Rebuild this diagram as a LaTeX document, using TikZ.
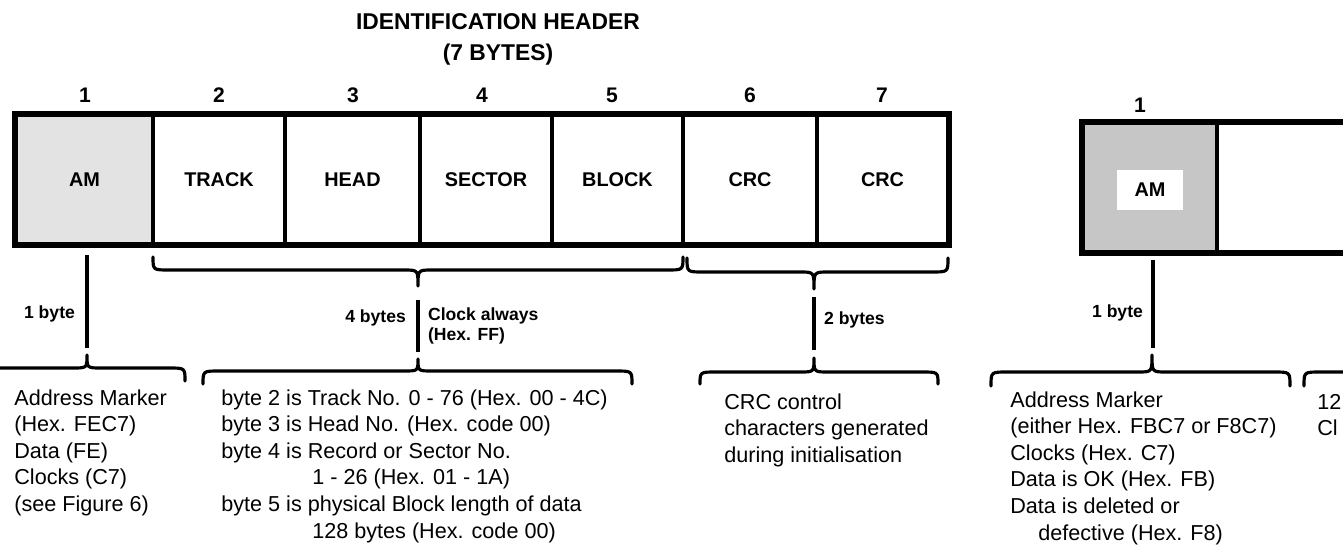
\documentclass[tikz,border=0pt]{standalone}
\usepackage{fontspec}
\setmainfont{Liberation Sans}
\newcommand{\mkcell}[7]{\node[cell,#7,minimum width={(#3-#2)*0.56693pt},minimum height={(#5-#4)*0.56693pt}] (#1) at ({(#2+#3)/2},{(#4+#5)/2}) {#6};}
\newcommand{\bracepath}[6]{\draw[brc] (#1,#4) .. controls (#1,#5) .. ({#1+16},#5) -- ({#3-14},#5) .. controls (#3,#5) .. (#3,#6) .. controls (#3,#5) .. ({#3+14},#5) -- ({#2-16},#5) .. controls (#2,#5) .. (#2,#4);}
\newcommand{\textlines}[4]{\foreach \s [count=\i] in {#4} {\node[body] (#1\i) at (#2,{#3+26.6*(\i-1)}) {\s};}}
\begin{document}
\begin{tikzpicture}[x=0.02cm,y=-0.02cm,
  cell/.style={draw,line width=1.7pt,inner sep=0pt,font=\fontsize{11.3}{13}\selectfont\bfseries},
  num/.style={font=\fontsize{12}{14}\selectfont\bfseries},
  lab/.style={font=\fontsize{10}{11.5}\selectfont\bfseries,inner sep=1pt},
  body/.style={font=\fontsize{12.3}{15}\selectfont,anchor=base west,inner sep=0pt},
  brc/.style={line width=1.8pt,line cap=round,line join=round},
  vline/.style={line width=2.1pt},
  ttl/.style={font=\fontsize{13}{15}\selectfont\bfseries}]
\useasboundingbox (0,0) rectangle (1343,551);
\clip (0,0) rectangle (1343,551);
% title
\node[ttl] (title) at (498,22) {IDENTIFICATION HEADER};
\node[ttl] (bytes7) at (498,55) {(7 BYTES)};
% byte numbers
\node[num] (n1) at (85,95) {1};
\node[num] (n2) at (219,95) {2};
\node[num] (n3) at (353,95) {3};
\node[num] (n4) at (482,95) {4};
\node[num] (n5) at (612,95) {5};
\node[num] (n6) at (750,95) {6};
\node[num] (n7) at (882,95) {7};
\node[num] (m1) at (1140,105) {1};
% header cells
\mkcell{am}{16}{153}{115}{244}{AM}{fill=gray!22}
\mkcell{track}{153}{285}{115}{244}{TRACK}{}
\mkcell{head}{285}{420}{115}{244}{HEAD}{}
\mkcell{sector}{420}{552}{115}{244}{SECTOR}{}
\mkcell{block}{552}{683}{115}{244}{BLOCK}{}
\mkcell{crca}{683}{817}{115}{244}{CRC}{}
\mkcell{crcb}{817}{948}{115}{244}{CRC}{}
\draw[line width=2.6pt] (am.north west) rectangle (crcb.south east);
% second record
\mkcell{amb}{1083}{1217}{123}{252}{}{fill=gray!45}
\node[fill=white,inner sep=0pt,minimum width=1.32cm,minimum height=0.8cm,font=\fontsize{11.3}{13}\selectfont\bfseries] (amlabel) at (1150,190) {AM};
\mkcell{datab}{1217}{1420}{123}{252}{}{}
\draw[line width=2.6pt] (amb.north west) rectangle (datab.south east);
% upper braces
\bracepath{153}{683}{418}{257}{270}{286}
\bracepath{687}{948}{814}{258}{272}{289}
% lower braces
\bracepath{-20}{185}{87}{381}{368}{355}
\bracepath{203}{632}{418}{384}{371}{359}
\bracepath{700}{938}{814}{384}{372}{358}
\bracepath{991}{1290}{1152}{386}{372}{355}
\bracepath{1304}{1600}{1452}{386}{372}{358}
% vertical connectors
\coordinate (a1) at (87,255); \coordinate (a2) at (87,348);
\coordinate (b1) at (418,300); \coordinate (b2) at (418,352);
\coordinate (c1) at (814,297); \coordinate (c2) at (814,350);
\coordinate (d1) at (1153,260); \coordinate (d2) at (1153,348);
\draw[vline] (a1) -- (a2);
\draw[vline] (b1) -- (b2);
\draw[vline] (c1) -- (c2);
\draw[vline] (d1) -- (d2);
% small labels
\node[lab,anchor=east] (l1) at (77,314) {1 byte};
\node[lab,anchor=east] (l4) at (408,318) {4 bytes};
\node[lab,anchor=west,align=left] (clk) at (426,326) {Clock always\\(Hex. FF)};
\node[lab,anchor=west] (l2) at (822,320) {2 bytes};
\node[lab,anchor=east] (l1b) at (1145,313) {1 byte};
% descriptions
\textlines{ta}{14}{405}{Address Marker,(Hex. FEC7),Data (FE),Clocks (C7),(see Figure 6)}
\textlines{tb}{221}{405}{byte 2 is Track No. 0 - 76 (Hex. 00 - 4C),byte 3 is Head No. (Hex. code 00),byte 4 is Record or Sector No.,{\hspace*{1.82cm}1 - 26 (Hex. 01 - 1A)},byte 5 is physical Block length of data,{\hspace*{1.82cm}128 bytes (Hex. code 00)}}
\textlines{tc}{724}{409}{CRC control,characters generated,during initialisation}
\textlines{td}{1010}{407}{Address Marker,(either Hex. FBC7 or F8C7),Clocks (Hex. C7),Data is OK (Hex. FB),Data is deleted or,{\hspace*{0.56cm}defective (Hex. F8)}}
\textlines{te}{1317}{409}{12,Cl}
\end{tikzpicture}
\end{document}
